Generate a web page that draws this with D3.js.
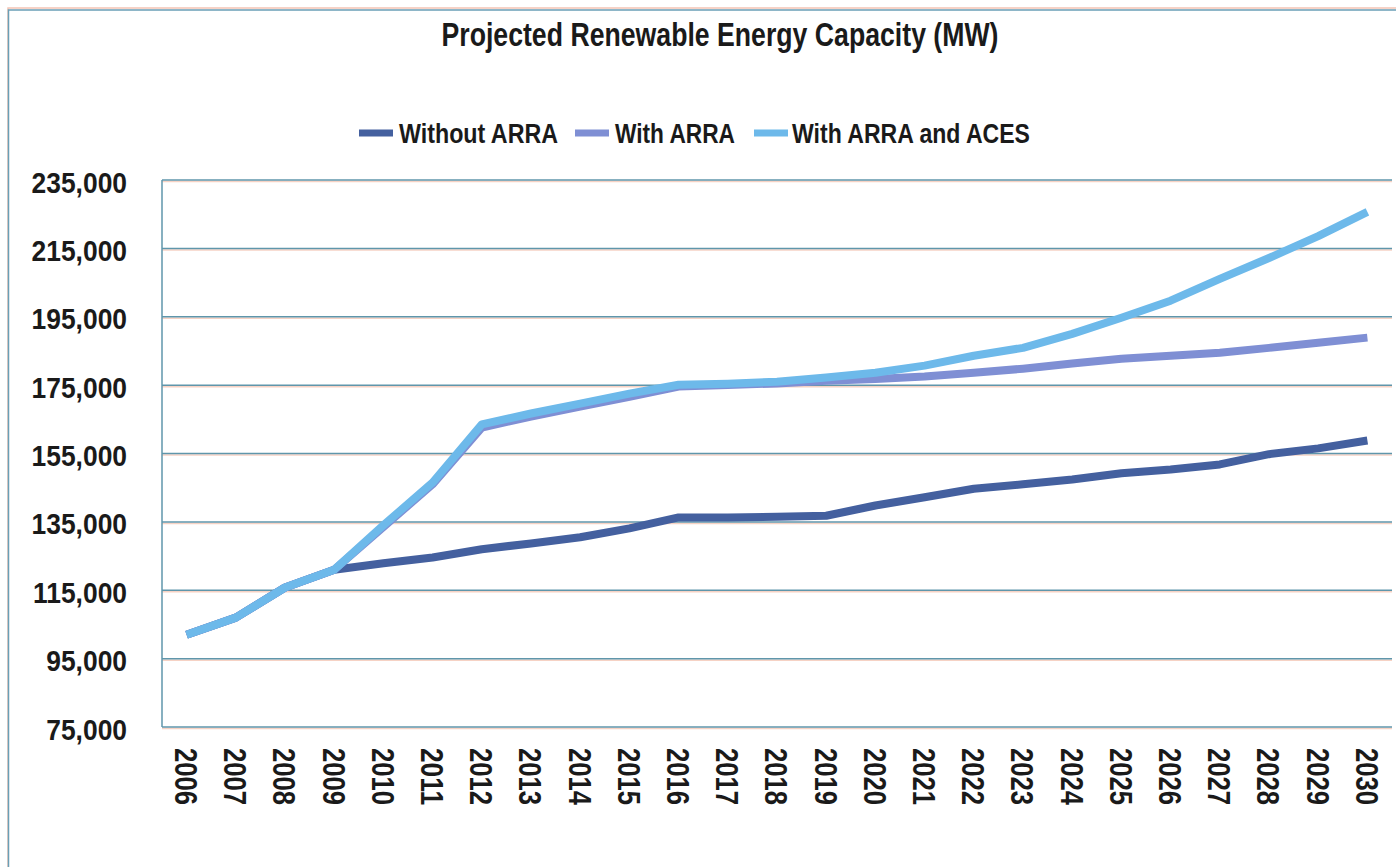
<!DOCTYPE html>
<html>
<head>
<meta charset="utf-8">
<script src="https://cdn.jsdelivr.net/npm/d3@7/dist/d3.min.js"></script>
<style>
	body { margin: 0; background: #fff; }
	svg { display: block; }
	text { font-family: "Liberation Sans Narrow", "Arial Narrow", "Liberation Sans", sans-serif; font-weight: bold; fill: #1a1a1a; }
</style>
</head>
<body>
<script>
var years = [2006,2007,2008,2009,2010,2011,2012,2013,2014,2015,2016,2017,2018,2019,2020,2021,2022,2023,2024,2025,2026,2027,2028,2029,2030];

var withoutArra = [102000,107000,115800,121000,122900,124600,127000,128700,130500,133100,136300,136300,136500,136800,139800,142200,144700,146000,147400,149200,150300,151800,154800,156500,158800];
var withArra = [102000,107000,115800,121000,133500,146000,162600,165800,168700,171600,174600,175000,175500,176300,176800,177500,178600,179800,181300,182700,183600,184500,185900,187400,188900];
var withArraAces = [102000,107000,115800,121000,134000,146500,163500,166700,169600,172500,175100,175400,176000,177200,178600,180700,183600,185900,190000,194700,199700,206100,212200,218600,225700];

var yTicks = [75000,95000,115000,135000,155000,175000,195000,215000,235000];

var seriesNames = ["Without ARRA","With ARRA","With ARRA and ACES"];
var seriesColors = ["#44609f","#7f8fd4","#6db9ea"];
var seriesValues = [withoutArra, withArra, withArraAces];

var width = 1396, height = 867;
var plot = {left: 162, top: 180, right: 1392, bottom: 727};

// no narrow face here, so squeeze the text to look condensed
function condense(sel, factor)
{
	sel.each(function()
	{
		var w = this.getComputedTextLength();
		d3.select(this)
			.attr("textLength", w * factor)
			.attr("lengthAdjust", "spacingAndGlyphs");
	});
}

var svg = d3.select("body").append("svg")
	.attr("width", width)
	.attr("height", height);

// outer frame, runs off the picture at right and bottom
svg.append("rect")
	.attr("x", 8).attr("y", 8)
	.attr("width", width + 20).attr("height", height + 20)
	.attr("fill", "none").attr("stroke", "#f3c4b4").attr("stroke-width", 1.5);
svg.append("rect")
	.attr("x", 8.5).attr("y", 10)
	.attr("width", width + 20).attr("height", height + 20)
	.attr("fill", "none").attr("stroke", "#6a9fb6").attr("stroke-width", 1.5);

var x = d3.scaleBand()
	.domain(years)
	.range([plot.left, plot.right]);

var y = d3.scaleLinear()
	.domain([75000, 235000])
	.range([plot.bottom, plot.top]);

// gridlines
var grid = svg.append("g");
grid.selectAll("line.shadow").data(yTicks).enter().append("line")
	.classed("shadow", 1)
	.attr("x1", plot.left).attr("x2", plot.right)
	.attr("y1", function(d) { return y(d) + 1.5; })
	.attr("y2", function(d) { return y(d) + 1.5; })
	.attr("stroke", "#f6d2c4").attr("stroke-width", 1.5);
grid.selectAll("line.main").data(yTicks).enter().append("line")
	.classed("main", 1)
	.attr("x1", plot.left).attr("x2", plot.right)
	.attr("y1", function(d) { return y(d); })
	.attr("y2", function(d) { return y(d); })
	.attr("stroke", "#5f96ab").attr("stroke-width", 1.5);

svg.append("line")
	.attr("x1", plot.left).attr("x2", plot.left)
	.attr("y1", plot.top).attr("y2", plot.bottom)
	.attr("stroke", "#5f96ab").attr("stroke-width", 1.5);

// y axis labels
var yAxis = svg.append("g")
	.attr("transform", "translate(" + plot.left + ",0)")
	.call(d3.axisLeft(y).tickValues(yTicks).tickSize(0).tickPadding(35).tickFormat(d3.format(",")));
yAxis.select(".domain").remove();
yAxis.selectAll("text")
	.attr("font-size", "30px")
	.attr("dy", "0.4em")
	.call(condense, 0.88);

// x axis labels, turned to read downwards
var xAxis = svg.append("g")
	.attr("transform", "translate(0," + plot.bottom + ")")
	.call(d3.axisBottom(x).tickSize(0).tickPadding(0));
xAxis.select(".domain").remove();
xAxis.selectAll("text")
	.attr("font-size", "32px")
	.attr("text-anchor", "start")
	.attr("transform", "rotate(90)")
	.attr("x", 21)
	.attr("y", 0)
	.attr("dy", "0.36em")
	.attr("textLength", 57)
	.attr("lengthAdjust", "spacingAndGlyphs");
svg.selectAll(".tick text").attr("font-family", null).attr("fill", "#1a1a1a");

// lines
var line = d3.line()
	.x(function(d, i) { return x(years[i]) + x.bandwidth() / 2; })
	.y(function(d) { return y(d); });

svg.append("g").selectAll("path").data(seriesValues).enter().append("path")
	.attr("d", line)
	.attr("fill", "none")
	.attr("stroke", function(d, i) { return seriesColors[i]; })
	.attr("stroke-width", 8)
	.attr("stroke-linejoin", "round");

// title
svg.append("text")
	.text("Projected Renewable Energy Capacity (MW)")
	.attr("x", 720)
	.attr("y", 46)
	.attr("text-anchor", "middle")
	.attr("font-size", "33px")
	.attr("textLength", 557)
	.attr("lengthAdjust", "spacingAndGlyphs");

// legend
var legendX = [359, 575, 754];
var legendTextWidth = [159, 120, 238];
var legend = svg.append("g").selectAll("g").data(seriesNames).enter().append("g")
	.attr("transform", function(d, i) { return "translate(" + legendX[i] + ",133)"; });

legend.append("line")
	.attr("x1", 0).attr("x2", 34)
	.attr("y1", 0).attr("y2", 0)
	.attr("stroke", function(d, i) { return seriesColors[i]; })
	.attr("stroke-width", 7);

legend.append("text")
	.text(function(d) { return d; })
	.attr("x", function(d, i) { return i == 2 ? 38 : 40; })
	.attr("y", 10)
	.attr("font-size", "27px")
	.attr("textLength", function(d, i) { return legendTextWidth[i]; })
	.attr("lengthAdjust", "spacingAndGlyphs");
</script>
</body>
</html>
